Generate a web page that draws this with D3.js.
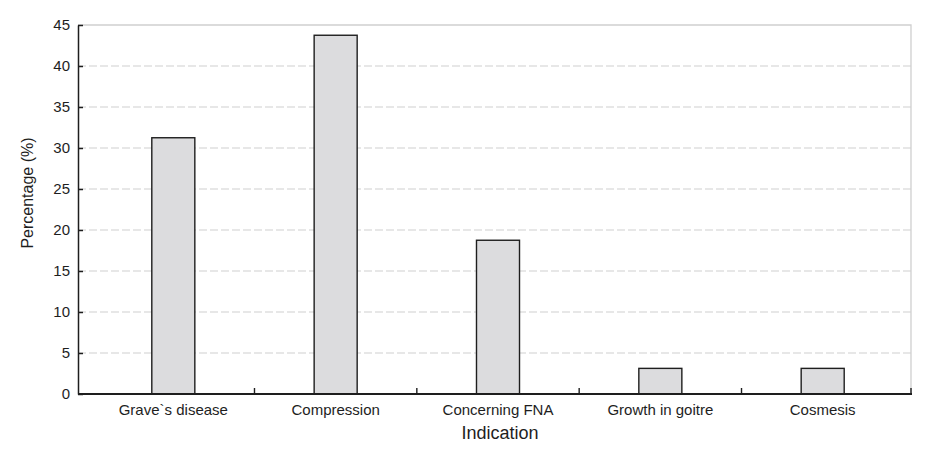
<!DOCTYPE html>
<html>
<head>
<meta charset="utf-8">
<script src="https://cdn.jsdelivr.net/npm/d3@7"></script>
<style>
  html, body { margin: 0; padding: 0; background: #fff; }
  svg { display: block; font-family: "Liberation Sans", Arial, sans-serif; }
</style>
</head>
<body>
<svg id="chart" width="930" height="459"></svg>
<script>
const categories = ["Grave`s disease", "Compression", "Concerning FNA", "Growth in goitre", "Cosmesis"];
const values = [31.25, 43.75, 18.75, 3.125, 3.125];
const yTicks = [0, 5, 10, 15, 20, 25, 30, 35, 40, 45];
const xTitle = "Indication";
const yTitle = "Percentage (%)";

const svg = d3.select("#chart");
const pLeft = 78, pRight = 911, pTop = 25, pBottom = 394;

const y = d3.scaleLinear().domain([0, 45]).range([pBottom, pTop]);
const x = d3.scaleBand().domain(categories).range([82, 914]).paddingInner(0.735).paddingOuter(0.43);

// grid lines (dashed)
svg.append("g").selectAll("line")
  .data(yTicks.filter(t => t > 0 && t < 45))
  .join("line")
  .attr("x1", pLeft).attr("x2", pRight)
  .attr("y1", d => y(d)).attr("y2", d => y(d))
  .attr("stroke", "#cfcfcf").attr("stroke-width", 1.2)
  .attr("stroke-dasharray", "8,3");

// top and right border
svg.append("path")
  .attr("d", `M${pLeft},${y(45)}H${pRight}V${pBottom}`)
  .attr("fill", "none").attr("stroke", "#cfcfcf").attr("stroke-width", 1.3);

// bars
svg.append("g").selectAll("rect")
  .data(values)
  .join("rect")
  .attr("x", (d, i) => x(categories[i]))
  .attr("width", x.bandwidth())
  .attr("y", d => y(d))
  .attr("height", d => y(0) - y(d))
  .attr("fill", "#dcdcde")
  .attr("stroke", "#1e1e1e").attr("stroke-width", 1.4);

// y axis
const yAxis = d3.axisLeft(y).tickValues(yTicks).tickSize(-5).tickPadding(8).tickSizeOuter(0);
const gy = svg.append("g").attr("transform", `translate(${pLeft},0)`).call(yAxis);
gy.select(".domain").attr("stroke", "#1e1e1e").attr("stroke-width", 1.5);
gy.selectAll(".tick line").attr("stroke", "#1e1e1e").attr("stroke-width", 1.5);
gy.selectAll(".tick text").attr("font-size", 15).attr("fill", "#1e1e1e")
  .attr("font-family", "Liberation Sans, Arial, sans-serif");

// x axis baseline
svg.append("line").attr("x1", pLeft).attr("x2", pRight + 1)
  .attr("y1", pBottom).attr("y2", pBottom)
  .attr("stroke", "#1e1e1e").attr("stroke-width", 1.8);

// x ticks at category boundaries (inward)
const centers = categories.map(c => x(c) + x.bandwidth() / 2);
const bounds = centers.slice(0, -1).map((c, i) => (c + centers[i + 1]) / 2).concat([pRight]);
svg.append("g").selectAll("line").data(bounds).join("line")
  .attr("x1", d => d).attr("x2", d => d)
  .attr("y1", pBottom).attr("y2", pBottom - 6)
  .attr("stroke", "#1e1e1e").attr("stroke-width", 1.4);

// x labels
svg.append("g").selectAll("text").data(categories).join("text")
  .attr("x", d => x(d) + x.bandwidth() / 2)
  .attr("y", 415)
  .attr("text-anchor", "middle")
  .attr("font-size", 15).attr("fill", "#1e1e1e")
  .text(d => d);

// axis titles
svg.append("text").attr("x", 500).attr("y", 439)
  .attr("text-anchor", "middle").attr("font-size", 18).attr("fill", "#1e1e1e")
  .text(xTitle);
svg.append("text")
  .attr("transform", `translate(33,193) rotate(-90)`)
  .attr("text-anchor", "middle").attr("font-size", 16).attr("fill", "#1e1e1e")
  .text(yTitle);
</script>
</body>
</html>
